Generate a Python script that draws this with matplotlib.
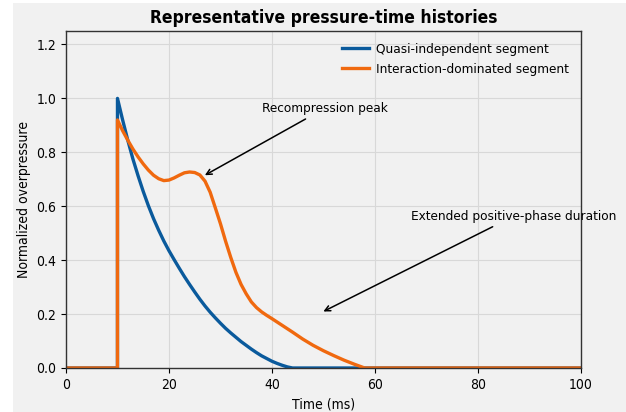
import matplotlib
matplotlib.use("Agg")
import matplotlib.pyplot as plt
from matplotlib import font_manager as fm
from matplotlib.patches import Rectangle

# (time in ms, normalized overpressure)
t_quasi = [0, 10, 10, 11, 12, 13, 14, 15, 16, 17, 18, 19, 20, 21, 22, 23, 24,
           25, 26, 27, 28, 29, 30, 31, 32, 33, 34, 35, 36, 37, 38, 39, 40, 41,
           42, 43, 44, 100]
p_quasi = [0, 0, 1.0, 0.92, 0.845, 0.775, 0.713, 0.655, 0.602, 0.554, 0.511,
           0.471, 0.435, 0.402, 0.37, 0.339, 0.31, 0.282, 0.255, 0.23, 0.207,
           0.186, 0.166, 0.147, 0.13, 0.114, 0.098, 0.084, 0.07, 0.057, 0.045,
           0.035, 0.025, 0.017, 0.01, 0.004, 0.0, 0.0]

t_inter = [0, 10, 10, 11, 12, 13, 14, 15, 16, 17, 18, 19, 20, 21, 22, 23, 24,
           25, 26, 27, 28, 29, 30, 31, 32, 33, 34, 35, 36, 37, 38, 39, 40, 42,
           44, 46, 48, 50, 52, 54, 56, 58, 100]
p_inter = [0, 0, 0.92, 0.88, 0.845, 0.812, 0.783, 0.757, 0.734, 0.715, 0.702,
           0.695, 0.697, 0.705, 0.715, 0.724, 0.727, 0.725, 0.716, 0.693,
           0.652, 0.594, 0.535, 0.47, 0.41, 0.355, 0.31, 0.275, 0.245, 0.224,
           0.208, 0.195, 0.183, 0.158, 0.133, 0.107, 0.084, 0.064, 0.046,
           0.029, 0.014, 0.0, 0.0]

# the original text is narrow, use the condensed DejaVu if it is there
cond = [f for f in fm.findSystemFonts() if 'DejaVuSansCondensed' in f]
for f in cond:
    fm.fontManager.addfont(f)
if cond:
    names = sorted({fm.FontProperties(fname=f).get_name() for f in cond})
    plt.rcParams['font.family'] = names + ['DejaVu Sans']
    plt.rcParams['font.stretch'] = 'condensed'

bg = '#f1f1f1'
blue = '#0a5a9c'
orange = '#f0690f'

fig = plt.figure(figsize=(6.26, 4.12), dpi=100, facecolor='white')
# grey panel, slightly offset like the original export
fig.patches.append(Rectangle((13 / 626, 0), 1 - 13 / 626, 409 / 412,
                             transform=fig.transFigure, facecolor=bg,
                             edgecolor='none', zorder=-10))

ax = fig.add_axes([0.1054, 0.1068, 0.8226, 0.818])
ax.set_facecolor(bg)

ax.plot(t_quasi, p_quasi, color=blue, lw=2.4, label='Quasi-independent segment')
ax.plot(t_inter, p_inter, color=orange, lw=2.4,
        label='Interaction-dominated segment')

ax.annotate('Recompression peak', xy=(26.5, 0.71), xytext=(38, 0.95),
            fontsize=9.7, arrowprops=dict(arrowstyle='->', color='black', lw=1.1))
ax.annotate('Extended positive-phase duration', xy=(49.5, 0.205),
            xytext=(67, 0.55), fontsize=9.7, annotation_clip=False,
            arrowprops=dict(arrowstyle='->', color='black', lw=1.1))

ax.set_xlim(0, 100)
ax.set_ylim(0, 1.25)
ax.set_xticks([0, 20, 40, 60, 80, 100])
ax.set_yticks([0.0, 0.2, 0.4, 0.6, 0.8, 1.0, 1.2])
ax.grid(True, color='#d8d8d8', lw=0.8)
ax.set_axisbelow(True)
for s in ax.spines.values():
    s.set_color('#333333')
    s.set_linewidth(1.0)
ax.tick_params(labelsize=10)

ax.set_xlabel('Time (ms)', fontsize=10)
ax.set_ylabel('Normalized overpressure', fontsize=10)
ax.set_title('Representative pressure-time histories', fontsize=12.5,
             fontweight='bold')
ax.legend(loc='upper right', frameon=False, fontsize=9.7, handletextpad=0.5)

fig.savefig('out.png', dpi=100, facecolor=fig.get_facecolor())
